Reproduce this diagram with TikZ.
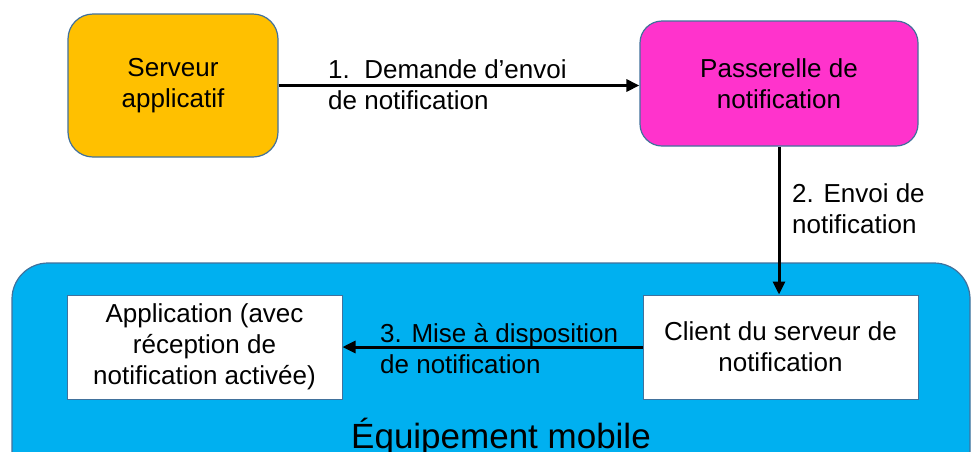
\documentclass[tikz,border=0pt]{standalone}
\usepackage{fontspec}
\setmainfont{Liberation Sans}
\usetikzlibrary{arrows.meta}
\definecolor{orangeY}{HTML}{FFC000}
\definecolor{magentaP}{HTML}{FF33CC}
\definecolor{blueM}{HTML}{00B0F0}
\definecolor{borderB}{HTML}{41719C}
\tikzset{
  txt/.style={font=\fontsize{26}{31}\selectfont},
  rbox/.style={txt, draw=borderB, line width=1.2pt, align=center, inner sep=0pt},
  wbox/.style={txt, draw=borderB, line width=1pt, fill=white, align=center, inner sep=0pt},
  conn/.style={line width=3pt, -{Triangle[length=13pt,width=12pt]}},
  lbl/.style={txt, align=left, anchor=north west, inner sep=0pt},
}
\begin{document}
\begin{tikzpicture}[x=1pt,y=-1pt]
\useasboundingbox (0,0) rectangle (974,451);
\clip (0,0) rectangle (974,451);
\fill[white] (0,0) rectangle (974,451);
\node[draw=borderB, line width=1.2pt, fill=blueM, rounded corners=36pt, minimum width=958pt, minimum height=237pt, inner sep=0pt] (mob) at (491,381.5) {};
\node[rbox, fill=orangeY, rounded corners=25pt, minimum width=210pt, minimum height=143pt] (serv) at (173,85.5) {Serveur\\applicatif};
\node[rbox, fill=magentaP, rounded corners=22pt, minimum width=278pt, minimum height=125pt] (pass) at (779,83.5) {Passerelle de\\notification};
\node[wbox, minimum width=275pt, minimum height=104pt] (app) at (204.5,347) {Application (avec\\réception de\\notification activée)};
\node[wbox, minimum width=275pt, minimum height=104pt] (cli) at (780.5,347) {Client du serveur de\\notification};
\draw[conn] (serv.east) -- (serv.east -| pass.west);
\draw[conn] (pass.south) -- (pass.south |- cli.north);
\draw[conn] (cli.west) -- (app.east);
\node[lbl] (l1) at (328,59) {1.\ \ Demande d’envoi\\de notification};
\node[lbl] (l2) at (792,183) {2. Envoi de\\notification};
\node[lbl] (l3) at (380,323) {3. Mise à disposition\\de notification};
\node[font=\fontsize{35}{40}\selectfont, anchor=base, inner sep=0pt] (eq) at (501,448) {Équipement mobile};
\end{tikzpicture}
\end{document}
